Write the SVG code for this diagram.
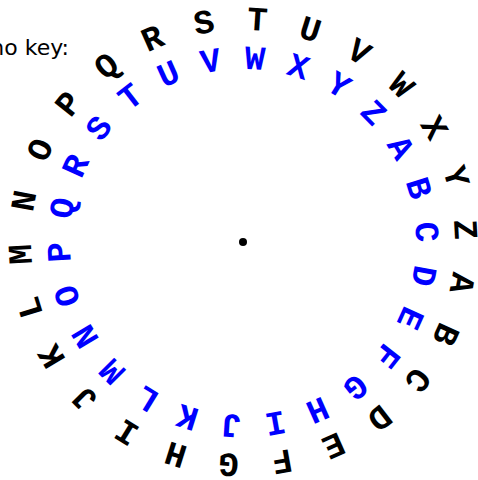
<svg xmlns="http://www.w3.org/2000/svg" width="478" height="480" viewBox="0 0 478 480">
<style>
.l{font-family:"Liberation Mono","DejaVu Sans Mono",monospace;font-weight:bold;font-size:34px;text-anchor:middle}
.o{fill:#000}
.i{fill:#0000ff}
.cap{font-family:"DejaVu Sans","Liberation Sans",sans-serif;font-size:22px;fill:#000}
</style>
<rect width="478" height="480" fill="#fff"/>
<text class="cap" x="69" y="55" text-anchor="end">no key:</text>
<circle id="center" cx="243" cy="242" r="4" fill="#000"/>
<g id="outer">
<text class="l o" x="243" y="30" transform="rotate(100.65 243 242)">A</text>
<text class="l o" x="243" y="30" transform="rotate(114.50 243 242)">B</text>
<text class="l o" x="243" y="30" transform="rotate(128.34 243 242)">C</text>
<text class="l o" x="243" y="30" transform="rotate(142.19 243 242)">D</text>
<text class="l o" x="243" y="30" transform="rotate(156.03 243 242)">E</text>
<text class="l o" x="243" y="30" transform="rotate(169.88 243 242)">F</text>
<text class="l o" x="243" y="30" transform="rotate(183.73 243 242)">G</text>
<text class="l o" x="243" y="30" transform="rotate(197.57 243 242)">H</text>
<text class="l o" x="243" y="30" transform="rotate(211.42 243 242)">I</text>
<text class="l o" x="243" y="30" transform="rotate(225.26 243 242)">J</text>
<text class="l o" x="243" y="30" transform="rotate(239.11 243 242)">K</text>
<text class="l o" x="243" y="30" transform="rotate(252.96 243 242)">L</text>
<text class="l o" x="243" y="30" transform="rotate(266.80 243 242)">M</text>
<text class="l o" x="243" y="30" transform="rotate(280.65 243 242)">N</text>
<text class="l o" x="243" y="30" transform="rotate(294.49 243 242)">O</text>
<text class="l o" x="243" y="30" transform="rotate(308.34 243 242)">P</text>
<text class="l o" x="243" y="30" transform="rotate(322.19 243 242)">Q</text>
<text class="l o" x="243" y="30" transform="rotate(336.03 243 242)">R</text>
<text class="l o" x="243" y="30" transform="rotate(349.88 243 242)">S</text>
<text class="l o" x="243" y="30" transform="rotate(3.73 243 242)">T</text>
<text class="l o" x="243" y="30" transform="rotate(17.57 243 242)">U</text>
<text class="l o" x="243" y="30" transform="rotate(31.42 243 242)">V</text>
<text class="l o" x="243" y="30" transform="rotate(45.26 243 242)">W</text>
<text class="l o" x="243" y="30" transform="rotate(59.11 243 242)">X</text>
<text class="l o" x="243" y="30" transform="rotate(72.96 243 242)">Y</text>
<text class="l o" x="243" y="30" transform="rotate(86.80 243 242)">Z</text>
</g>
<g id="inner">
<text class="l i" x="243" y="69" transform="rotate(59.11 243 242)">A</text>
<text class="l i" x="243" y="69" transform="rotate(72.96 243 242)">B</text>
<text class="l i" x="243" y="69" transform="rotate(86.80 243 242)">C</text>
<text class="l i" x="243" y="69" transform="rotate(100.65 243 242)">D</text>
<text class="l i" x="243" y="69" transform="rotate(114.50 243 242)">E</text>
<text class="l i" x="243" y="69" transform="rotate(128.34 243 242)">F</text>
<text class="l i" x="243" y="69" transform="rotate(142.19 243 242)">G</text>
<text class="l i" x="243" y="69" transform="rotate(156.03 243 242)">H</text>
<text class="l i" x="243" y="69" transform="rotate(169.88 243 242)">I</text>
<text class="l i" x="243" y="69" transform="rotate(183.73 243 242)">J</text>
<text class="l i" x="243" y="69" transform="rotate(197.57 243 242)">K</text>
<text class="l i" x="243" y="69" transform="rotate(211.42 243 242)">L</text>
<text class="l i" x="243" y="69" transform="rotate(225.26 243 242)">M</text>
<text class="l i" x="243" y="69" transform="rotate(239.11 243 242)">N</text>
<text class="l i" x="243" y="69" transform="rotate(252.96 243 242)">O</text>
<text class="l i" x="243" y="69" transform="rotate(266.80 243 242)">P</text>
<text class="l i" x="243" y="69" transform="rotate(280.65 243 242)">Q</text>
<text class="l i" x="243" y="69" transform="rotate(294.49 243 242)">R</text>
<text class="l i" x="243" y="69" transform="rotate(308.34 243 242)">S</text>
<text class="l i" x="243" y="69" transform="rotate(322.19 243 242)">T</text>
<text class="l i" x="243" y="69" transform="rotate(336.03 243 242)">U</text>
<text class="l i" x="243" y="69" transform="rotate(349.88 243 242)">V</text>
<text class="l i" x="243" y="69" transform="rotate(3.73 243 242)">W</text>
<text class="l i" x="243" y="69" transform="rotate(17.57 243 242)">X</text>
<text class="l i" x="243" y="69" transform="rotate(31.42 243 242)">Y</text>
<text class="l i" x="243" y="69" transform="rotate(45.26 243 242)">Z</text>
</g>
</svg>
